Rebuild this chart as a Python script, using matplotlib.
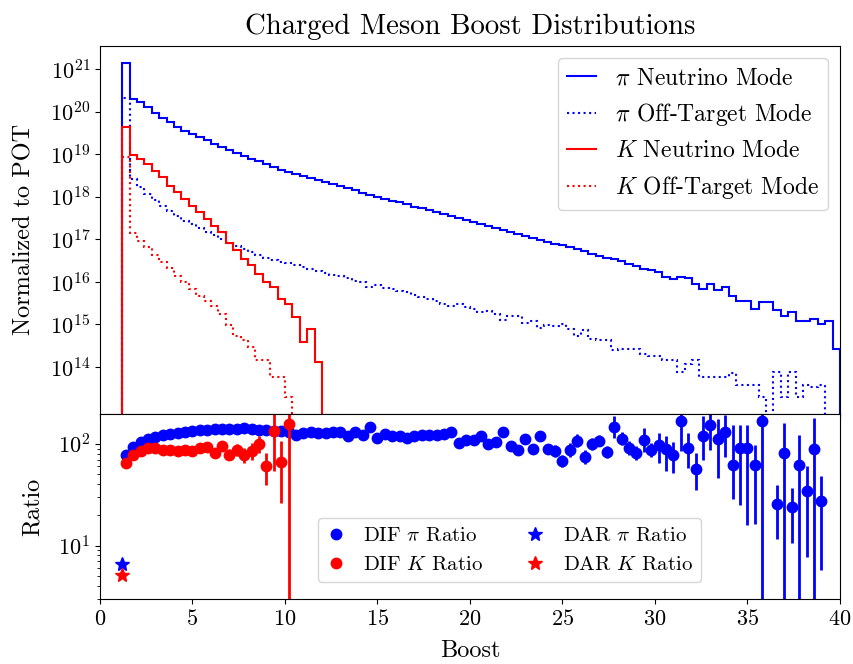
# Charged meson boost distributions + DIF/DAR ratio panel
import numpy as np
import matplotlib
matplotlib.use("Agg")
import matplotlib.pyplot as plt
from matplotlib.ticker import NullLocator

plt.rcParams["font.family"] = ["cmr10", "DejaVu Serif"]
plt.rcParams["mathtext.fontset"] = "cm"
plt.rcParams["axes.formatter.use_mathtext"] = True
plt.rcParams["axes.unicode_minus"] = False

# ── bins: 0.4 wide, first edge at boost 1.2 ──────────────────────────────────
edges = np.round(np.arange(1.2, 40.01, 0.4), 1)
centers = edges[:-1] + 0.2

# ── histogram heights, read as log10(value) per bin (nan = empty bin) ───────
pi_nu_exp = [
    21.14, 20.30, 20.22, 20.11, 19.98, 19.86, 19.76, 19.64, 19.55, 19.47,
    19.40, 19.33, 19.25, 19.18, 19.10, 19.03, 18.97, 18.90, 18.84, 18.77,
    18.69, 18.63, 18.58, 18.53, 18.49, 18.44, 18.39, 18.34, 18.30, 18.25,
    18.20, 18.15, 18.10, 18.05, 18.00, 17.96, 17.91, 17.87, 17.82, 17.77,
    17.73, 17.68, 17.64, 17.59, 17.55, 17.50, 17.46, 17.41, 17.37, 17.32,
    17.27, 17.22, 17.18, 17.13, 17.08, 17.04, 16.99, 16.94, 16.90, 16.86,
    16.82, 16.78, 16.72, 16.66, 16.62, 16.56, 16.54, 16.50, 16.43, 16.37,
    16.31, 16.28, 16.23, 16.12, 16.07, 16.11, 16.09, 15.96, 15.84, 15.96,
    15.82, 15.88, 15.68, 15.56, 15.56, 15.37, 15.53, 15.53, 15.33, 15.21,
    15.29, 15.08, 15.08, 15.14, 15.02, 15.08, 14.42,
]
pi_off_exp = [
    20.33, 18.42, 18.22, 18.06, 17.92, 17.78, 17.66, 17.54, 17.44, 17.35,
    17.26, 17.18, 17.10, 17.02, 16.92, 16.85, 16.78, 16.71, 16.64, 16.57,
    16.52, 16.48, 16.44, 16.40, 16.35, 16.30, 16.26, 16.22, 16.17, 16.13,
    16.10, 16.03, 16.00, 15.88, 15.93, 15.86, 15.83, 15.79, 15.76, 15.69,
    15.64, 15.59, 15.55, 15.49, 15.43, 15.49, 15.42, 15.37, 15.30, 15.32,
    15.25, 15.10, 15.20, 15.19, 15.03, 15.09, 14.92, 14.99, 14.97, 15.02,
    14.90, 14.72, 14.86, 14.67, 14.63, 14.63, 14.39, 14.43, 14.43, 14.43,
    14.30, 14.25, 14.25, 14.16, 14.16, 13.88, 14.08, 14.16, 13.77, 13.77,
    13.77, 13.77, 13.86, 13.57, 13.57, 13.57, 13.30, np.nan, 13.88, 13.30,
    13.88, 13.30, 13.57, 13.53, 13.57, np.nan, np.nan,
]
k_nu_exp = [
    19.65, 18.98, 18.89, 18.77, 18.61, 18.46, 18.26, 18.11, 17.95, 17.79,
    17.64, 17.48, 17.32, 17.17, 16.92, 16.74, 16.54, 16.39, 16.19, 16.00,
    15.88, 15.61, 15.49, 15.17, 14.59, 14.90, 14.11,
]
k_off_exp = [
    18.94, 17.15, 16.97, 16.82, 16.64, 16.48, 16.32, 16.15, 16.00, 15.84,
    15.68, 15.56, 15.43, 15.25, 14.98, 14.74, 14.63, 14.47, 14.17, 14.17,
    13.77, 13.77, 13.30,
]

# ── DIF ratios (log10) and error bar extents (decades up / down) ─────────────
pi_ratio_exp = [
    1.89, 1.97, 2.02, 2.05, 2.07, 2.09, 2.10, 2.11, 2.12, 2.13,
    2.14, 2.14, 2.15, 2.15, 2.15, 2.15, 2.16, 2.15, 2.14, 2.14,
    2.13, 2.13, 2.12, 2.09, 2.11, 2.12, 2.11, 2.11, 2.12, 2.12,
    2.075, 2.12, 2.09, 2.17, 2.06, 2.10, 2.08, 2.08, 2.06, 2.08,
    2.09, 2.09, 2.09, 2.10, 2.12, 2.01, 2.04, 2.04, 2.075, 2.00,
    2.02, 2.12, 1.98, 1.94, 2.05, 1.95, 2.075, 1.95, 1.93, 1.83,
    1.94, 2.03, 1.87, 2.00, 2.03, 1.92, 2.17, 2.05, 1.96, 1.91,
    2.04, 1.94, 1.99, 1.95, 1.89, 2.23, 1.96, 1.75, 2.075, 2.19,
    2.05, 2.12, 1.79, 1.96, 1.96, 1.79, 2.23, np.nan, 1.41, 1.91,
    1.375, 1.79, 1.54, 1.95, 1.44, np.nan, np.nan,
]
pi_err_up = [
    0.01, 0.01, 0.01, 0.01, 0.01, 0.01, 0.01, 0.01, 0.01, 0.01,
    0.01, 0.01, 0.01, 0.01, 0.01, 0.01, 0.01, 0.01, 0.01, 0.01,
    0.015, 0.015, 0.015, 0.015, 0.015, 0.015, 0.015, 0.015, 0.015, 0.015,
    0.02, 0.02, 0.02, 0.02, 0.02, 0.02, 0.02, 0.02, 0.02, 0.02,
    0.02, 0.02, 0.025, 0.025, 0.025, 0.03, 0.03, 0.03, 0.03, 0.03,
    0.035, 0.035, 0.04, 0.04, 0.05, 0.045, 0.05, 0.05, 0.055, 0.06,
    0.07, 0.065, 0.07, 0.06, 0.055, 0.055, 0.105, 0.065, 0.065, 0.065,
    0.115, 0.065, 0.115, 0.125, 0.13, 0.15, 0.15, 0.165, 0.2, 0.2,
    0.19, 0.165, 0.4, 0.23, 0.23, 0.2, 0.2, 0.0, 0.19, 0.3,
    0.19, 0.3, 0.24, 0.3, 0.24, 0.0, 0.0,
]
pi_err_dn = [
    0.01, 0.01, 0.01, 0.01, 0.01, 0.01, 0.01, 0.01, 0.01, 0.01,
    0.01, 0.01, 0.01, 0.01, 0.01, 0.01, 0.01, 0.01, 0.01, 0.01,
    0.015, 0.015, 0.015, 0.015, 0.015, 0.015, 0.015, 0.015, 0.015, 0.015,
    0.02, 0.02, 0.02, 0.02, 0.02, 0.02, 0.02, 0.02, 0.02, 0.02,
    0.02, 0.02, 0.025, 0.025, 0.025, 0.03, 0.03, 0.03, 0.03, 0.03,
    0.035, 0.035, 0.04, 0.04, 0.05, 0.045, 0.05, 0.05, 0.055, 0.06,
    0.07, 0.065, 0.07, 0.06, 0.055, 0.055, 0.11, 0.065, 0.065, 0.065,
    0.115, 0.065, 0.18, 0.22, 0.18, 0.30, 0.2, 0.2, 0.23, 0.25,
    0.385, 0.25, 0.33, 0.56, 0.76, 0.58, 2.5, 0.0, 0.35, 2.5,
    0.35, 2.5, 0.65, 2.5, 0.68, 0.0, 0.0,
]
k_ratio_exp = [
    1.81, 1.895, 1.934, 1.96, 1.955, 1.944, 1.944, 1.934, 1.944, 1.927,
    1.955, 1.967, 1.91, 1.976, 1.895, 1.944, 1.895, 1.927, 2.0, 1.78,
    2.124, 1.82, 2.2,
]
k_err_up = [
    0.01, 0.01, 0.01, 0.01, 0.01, 0.01, 0.01, 0.01, 0.015, 0.015,
    0.02, 0.02, 0.025, 0.03, 0.05, 0.05, 0.066, 0.082, 0.075, 0.13,
    0.2, 0.21, 0.2,
]
k_err_dn = [
    0.01, 0.01, 0.01, 0.01, 0.01, 0.01, 0.01, 0.01, 0.015, 0.015,
    0.02, 0.02, 0.025, 0.03, 0.055, 0.066, 0.082, 0.085, 0.09, 0.18,
    0.39, 0.40, 2.5,
]

# DAR ratios
dar_x = 1.2
dar_pi = 6.6
dar_k = 5.1

BLUE = "#0000ff"
RED = "#ff0000"


def counts(exps):
    return np.nan_to_num(10.0 ** np.array(exps, dtype=float), nan=0.0)


def ratio_with_err(exps, up, dn):
    r = 10.0 ** np.array(exps, dtype=float)
    lo = r * (1 - 10.0 ** -np.array(dn))
    hi = r * (10.0 ** np.array(up) - 1)
    return r, [lo, hi]


fig, (ax1, ax2) = plt.subplots(
    2, 1, sharex=True, figsize=(8.54, 6.64), dpi=100,
    gridspec_kw=dict(height_ratios=[367.5, 185.5], hspace=0))
fig.subplots_adjust(left=0.117, right=0.9836, top=0.9307, bottom=0.0974)

# ── top: histograms ──────────────────────────────────────────────────────────
ax1.set_yscale("log")
ax1.stairs(counts(pi_nu_exp), edges, baseline=0, color=BLUE, lw=1.5,
           label=r"$\pi$ Neutrino Mode")
ax1.stairs(counts(pi_off_exp), edges, baseline=0, color=BLUE, lw=1.5, ls=":",
           label=r"$\pi$ Off-Target Mode")
ax1.stairs(counts(k_nu_exp), edges[:len(k_nu_exp) + 1], baseline=0, color=RED,
           lw=1.5, label=r"$K$ Neutrino Mode")
ax1.stairs(counts(k_off_exp), edges[:len(k_off_exp) + 1], baseline=0, color=RED,
           lw=1.5, ls=":", label=r"$K$ Off-Target Mode")
ax1.set_ylim(8e12, 3.5e21)
ax1.set_yticks([10.0 ** k for k in range(14, 22)])
ax1.yaxis.set_minor_locator(NullLocator())
ax1.set_ylabel("Normalized to POT", fontsize=17.5, labelpad=10)
ax1.set_title("Charged Meson Boost Distributions", fontsize=20.7, pad=9)
ax1.tick_params(labelsize=16)
ax1.legend(loc="upper right", fontsize=17, handlelength=1.2)

# ── bottom: ratios ───────────────────────────────────────────────────────────
ax2.set_yscale("log")
pr, perr = ratio_with_err(pi_ratio_exp, pi_err_up, pi_err_dn)
kr, kerr = ratio_with_err(k_ratio_exp, k_err_up, k_err_dn)
ax2.errorbar(centers, pr, yerr=perr, fmt="none", ecolor=BLUE, elinewidth=2)
ax2.plot(centers, pr, "o", color=BLUE, ms=7.5, label=r"DIF $\pi$ Ratio")
ax2.errorbar(centers[:len(kr)], kr, yerr=kerr, fmt="none", ecolor=RED, elinewidth=2)
ax2.plot(centers[:len(kr)], kr, "o", color=RED, ms=7.5, label=r"DIF $K$ Ratio")
ax2.plot([dar_x], [dar_pi], "*", color=BLUE, ms=10, label=r"DAR $\pi$ Ratio")
ax2.plot([dar_x], [dar_k], "*", color=RED, ms=10, label=r"DAR $K$ Ratio")
ax2.set_ylim(2.96, 198)
ax2.set_xlim(0, 40)
ax2.set_xticks(range(0, 41, 5))
ax2.set_ylabel("Ratio", fontsize=17.5, labelpad=10)
ax2.set_xlabel("Boost", fontsize=17.5, labelpad=8)
ax2.tick_params(labelsize=16)
ax2.legend(ncol=2, loc="lower left", bbox_to_anchor=(0.294, 0.091),
           borderaxespad=0, fontsize=15, handlelength=1.0)

fig.savefig("out.png", dpi=100)
